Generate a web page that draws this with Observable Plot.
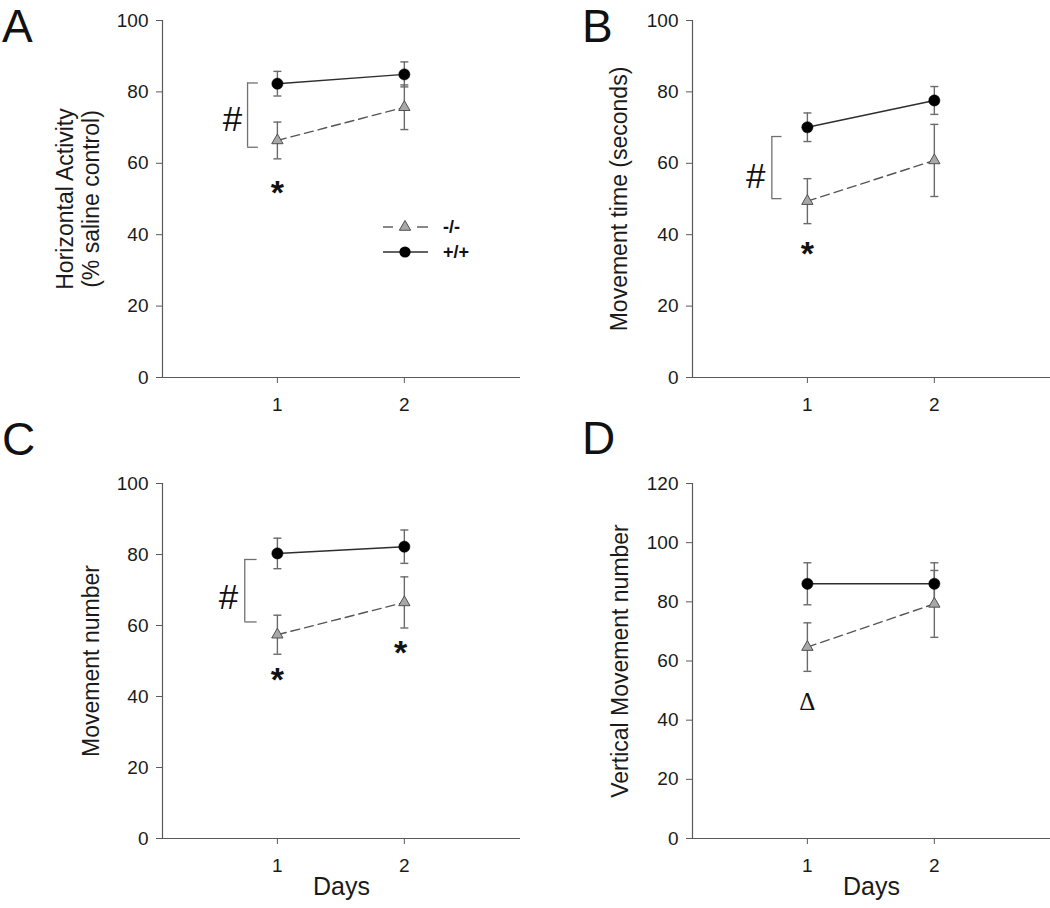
<!DOCTYPE html>
<html>
<head>
<meta charset="utf-8">
<script src="https://cdn.jsdelivr.net/npm/d3@7"></script>
<script src="https://cdn.jsdelivr.net/npm/@observablehq/plot@0.6"></script>
<style>
html, body { margin: 0; padding: 0; background: #fff; }
#fig { position: relative; width: 1050px; height: 908px; overflow: hidden; background: #fff;
       font-family: "Liberation Sans", Arial, sans-serif; }
#fig > svg, #fig > .pl { position: absolute; }
</style>
</head>
<body>
<div id="fig"></div>
<script>
// ---------------- data ----------------
const days = [1, 2];
const xDomain = [0.095, 2.915];
const yTicks100 = [0, 20, 40, 60, 80, 100];
const yTicks120 = [0, 20, 40, 60, 80, 100, 120];

// Panel A: Horizontal Activity (% saline control)
const aWtMean = [82.3, 84.9];
const aWtSem  = [3.45, 3.5];
const aKoMean = [66.4, 75.7];
const aKoSem  = [5.15, 6.25];

// Panel B: Movement time (seconds)
const bWtMean = [70.1, 77.6];
const bWtSem  = [4.0, 3.9];
const bKoMean = [49.4, 60.8];
const bKoSem  = [6.3, 10.1];

// Panel C: Movement number
const cWtMean = [80.3, 82.2];
const cWtSem  = [4.3, 4.7];
const cKoMean = [57.4, 66.5];
const cKoSem  = [5.5, 7.2];

// Panel D: Vertical Movement number
const dWtMean = [86.1, 86.1];
const dWtSem  = [7.1, 7.1];
const dKoMean = [64.7, 79.3];
const dKoSem  = [8.2, 11.3];

const panelLetters = ["A", "B", "C", "D"];
const yLabels = ["Horizontal Activity\n(% saline control)", "Movement time (seconds)", "Movement number", "Vertical Movement number"];
const xLabel = "Days";
const legendLabels = ["-/-", "+/+"];

// annotations
const bracketA = [{x1: 0.765, x2: 0.85, y1: 64.5, y2: 82.5}];
const bracketB = [{x1: 0.72, x2: 0.8, y1: 50.1, y2: 67.5}];
const bracketC = [{x1: 0.743, x2: 0.84, y1: 61.0, y2: 78.6}];
const hashA = [{day: 0.646, value: 72.1, label: "#"}];
const hashB = [{day: 0.593, value: 56.1, label: "#"}];
const hashC = [{day: 0.614, value: 67.9, label: "#"}];
const starA = [{day: 1, value: 53.8, label: "*"}];
const starB = [{day: 1, value: 36.8, label: "*"}];
const starC = [{day: 1, value: 47.0, label: "*"}, {day: 1.97, value: 54.6, label: "*"}];
const deltaD = [{day: 1, value: 46.1, label: "\u0394"}];

// ---------------- styling ----------------
const axisColor = "#5a5a5a";
const textColor = "#1a1a1a";
const errColor = "#6a6a6a";
const wtLine = "#2e2e2e";
const koLine = "#555";
const koFill = "#a8a8a8";
const FONT = "'Liberation Sans', Arial, sans-serif";

const capSymbol = {draw(ctx) { ctx.moveTo(-4, 0); ctx.lineTo(4, 0); }};

function rows(means, sems, g) {
  return days.map((d, i) => ({day: d, geno: g, mean: means[i], lo: means[i] - sems[i], hi: means[i] + sems[i]}));
}

function panel(o) {
  const wt = rows(o.wtMean, o.wtSem, "+/+");
  const ko = rows(o.koMean, o.koSem, "-/-");
  const marks = [
    Plot.ruleY([0], {stroke: axisColor, strokeWidth: 1.2}),
    Plot.ruleX([xDomain[0]], {stroke: axisColor, strokeWidth: 1.2}),
    Plot.axisY({ticks: o.yTicks, tickSize: 6, tickPadding: 8, stroke: axisColor, fill: textColor, label: null, fontSize: 19, tickFormat: d => String(d)}),
    Plot.axisX({ticks: days, tickSize: 6, tickPadding: 14, stroke: axisColor, fill: textColor, label: null, fontSize: 19, tickFormat: d => String(d)}),
    Plot.text([o.yLabel], {text: d => d, frameAnchor: "left", textAnchor: "middle", dx: o.ylDx, rotate: -90, fontSize: 23, lineHeight: 1.12, fill: textColor}),
  ];
  if (o.showX) marks.push(Plot.text([xLabel], {text: d => d, frameAnchor: "bottom", dy: 56, fontSize: 25, fill: textColor}));
  if (o.bracket) {
    marks.push(
      Plot.ruleX(o.bracket, {x: "x1", y1: "y1", y2: "y2", stroke: "#707070", strokeWidth: 1.3}),
      Plot.ruleY(o.bracket, {y: "y1", x1: "x1", x2: "x2", stroke: "#707070", strokeWidth: 1.3}),
      Plot.ruleY(o.bracket, {y: "y2", x1: "x1", x2: "x2", stroke: "#707070", strokeWidth: 1.3})
    );
  }
  if (o.hash) marks.push(Plot.text(o.hash, {x: "day", y: "value", text: "label", fontSize: 35, fill: "#111"}));
  if (o.star) marks.push(Plot.text(o.star, {x: "day", y: "value", text: "label", fontSize: 34, fontWeight: "bold", dy: 8, fill: "#111"}));
  if (o.delta) marks.push(Plot.text(o.delta, {x: "day", y: "value", text: "label", fontSize: 25, fontFamily: "'Liberation Serif', 'DejaVu Serif', serif", fill: "#111"}));
  const all = wt.concat(ko);
  marks.push(
    Plot.ruleX(all, {x: "day", y1: "lo", y2: "hi", stroke: errColor, strokeWidth: 1.4}),
    Plot.dot(all, {x: "day", y: "lo", symbol: capSymbol, r: 4, stroke: errColor, strokeWidth: 1.4, fill: "none"}),
    Plot.dot(all, {x: "day", y: "hi", symbol: capSymbol, r: 4, stroke: errColor, strokeWidth: 1.4, fill: "none"}),
    Plot.line(wt, {x: "day", y: "mean", stroke: wtLine, strokeWidth: 1.4}),
    Plot.line(ko, {x: "day", y: "mean", stroke: koLine, strokeWidth: 1.4, strokeDasharray: "9,5"}),
    Plot.dot(wt, {x: "day", y: "mean", r: 5.6, fill: "#000", stroke: "#000", strokeWidth: 0.5}),
    Plot.dot(ko, {x: "day", y: "mean", symbol: "triangle", r: 4.2, fill: koFill, stroke: "#505050", strokeWidth: 1})
  );
  const svg = Plot.plot({
    width: o.width, height: o.height,
    marginLeft: o.ml, marginRight: o.mr, marginTop: o.mt, marginBottom: o.mb,
    x: {domain: xDomain},
    y: {domain: [0, o.yMax]},
    style: {fontFamily: FONT, fontSize: "19px", color: textColor, background: "transparent", overflow: "visible"},
    marks
  });
  svg.classList.add("pl");
  svg.style.left = o.left + "px";
  svg.style.top = o.top + "px";
  document.getElementById("fig").appendChild(svg);
}

panel({left: 0, top: 0, width: 530, height: 430, ml: 162, mr: 10, mt: 20, mb: 53,
  wtMean: aWtMean, wtSem: aWtSem, koMean: aKoMean, koSem: aKoSem, yMax: 100, yTicks: yTicks100,
  yLabel: yLabels[0], ylDx: -85, bracket: bracketA, hash: hashA, star: starA});
panel({left: 530, top: 0, width: 520, height: 430, ml: 162, mr: 0, mt: 20, mb: 53,
  wtMean: bWtMean, wtSem: bWtSem, koMean: bKoMean, koSem: bKoSem, yMax: 100, yTicks: yTicks100,
  yLabel: yLabels[1], ylDx: -74, bracket: bracketB, hash: hashB, star: starB});
panel({left: 0, top: 440, width: 530, height: 468, ml: 162, mr: 10, mt: 43, mb: 70,
  wtMean: cWtMean, wtSem: cWtSem, koMean: cKoMean, koSem: cKoSem, yMax: 100, yTicks: yTicks100,
  yLabel: yLabels[2], ylDx: -72, bracket: bracketC, hash: hashC, star: starC, showX: true});
panel({left: 530, top: 440, width: 520, height: 468, ml: 162, mr: 0, mt: 43, mb: 70,
  wtMean: dWtMean, wtSem: dWtSem, koMean: dKoMean, koSem: dKoSem, yMax: 120, yTicks: yTicks120,
  yLabel: yLabels[3], ylDx: -73, delta: deltaD, showX: true});

// ---------------- overlay: panel letters + legend ----------------
const ov = d3.select("#fig").append("svg")
  .attr("width", 1050).attr("height", 908)
  .style("left", "0px").style("top", "0px").style("pointer-events", "none");
const letterPos = [[2, 42], [582, 42], [2, 455], [582, 454]];
ov.selectAll("text.letter").data(panelLetters).join("text")
  .attr("class", "letter")
  .attr("x", (d, i) => letterPos[i][0]).attr("y", (d, i) => letterPos[i][1])
  .attr("font-family", FONT).attr("font-size", 46).attr("fill", "#111")
  .text(d => d);

const lg = ov.append("g").attr("transform", "translate(383,227)");
// -/- row
lg.append("line").attr("x1", 0).attr("x2", 10).attr("y1", 0).attr("y2", 0).attr("stroke", koLine).attr("stroke-width", 1.4);
lg.append("line").attr("x1", 34).attr("x2", 45).attr("y1", 0).attr("y2", 0).attr("stroke", koLine).attr("stroke-width", 1.4);
lg.append("path").attr("d", d3.symbol(d3.symbolTriangle, Math.PI * 4.2 * 4.2)()).attr("transform", "translate(22,0)")
  .attr("fill", koFill).attr("stroke", "#505050");
// +/+ row
lg.append("line").attr("x1", 0).attr("x2", 45).attr("y1", 25).attr("y2", 25).attr("stroke", wtLine).attr("stroke-width", 1.4);
lg.append("circle").attr("cx", 22).attr("cy", 25).attr("r", 5.6).attr("fill", "#000");
lg.selectAll("text").data(legendLabels).join("text")
  .attr("x", 60).attr("y", (d, i) => i * 25).attr("dy", "0.35em")
  .attr("font-family", FONT).attr("font-size", 18).attr("font-weight", "bold").attr("fill", "#111")
  .text(d => d);
</script>
</body>
</html>
